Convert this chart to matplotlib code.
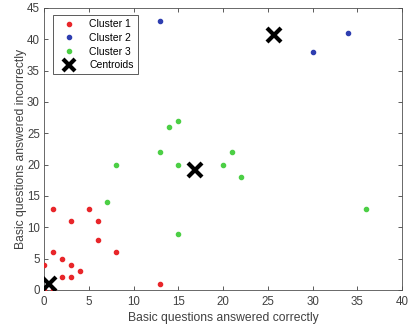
import matplotlib
matplotlib.use("Agg")
import matplotlib.pyplot as plt
from matplotlib.lines import Line2D

plt.rcParams['font.family'] = ['Liberation Sans', 'DejaVu Sans']

c1_x = [0, 1, 0, 1, 2, 2, 3, 3, 4, 1, 3, 5, 6, 6, 8, 13]
c1_y = [0, 0, 4, 6, 5, 2, 2, 4, 3, 13, 11, 13, 11, 8, 6, 1]
c2_x = [13, 30, 34]
c2_y = [43, 38, 41]
c3_x = [8, 7, 13, 14, 15, 15, 15, 20, 21, 22, 36]
c3_y = [20, 14, 22, 26, 27, 20, 9, 20, 22, 18, 13]
cent_x = [0.6, 16.9, 25.7]
cent_y = [0.9, 19.2, 40.7]

fig = plt.figure(figsize=(4.09, 3.31), dpi=100)
ax = fig.add_axes([44/409, 41/331, 358/409, 282/331])

red = '#E8262A'
blue = '#2E3EB0'
green = '#4CCF45'
ax.scatter(c1_x, c1_y, s=9, color=red, label='Cluster 1', zorder=3)
ax.scatter(c2_x, c2_y, s=9, color=blue, label='Cluster 2', zorder=3)
ax.scatter(c3_x, c3_y, s=9, color=green, label='Cluster 3', zorder=3)
ax.plot(cent_x, cent_y, 'x', color='k', ms=10, mew=3, ls='none', label='Centroids', zorder=4)

ax.set_xlim(0, 40)
ax.set_ylim(0, 45)
ax.set_xticks(range(0, 41, 5))
ax.set_yticks(range(0, 46, 5))
tc = '#404040'
ax.tick_params(direction='in', top=True, right=True, labelsize=8.3, colors=tc, length=3, width=0.6, pad=4)
ax.tick_params(axis='y', pad=3)
for s in ax.spines.values():
    s.set_color('#505050')
    s.set_linewidth(0.6)
ax.set_xlabel('Basic questions answered correctly', fontsize=8.7, color=tc, labelpad=3)
ax.set_ylabel('Basic questions answered incorrectly', fontsize=8.7, color=tc, labelpad=0)

handles = [
    Line2D([], [], marker='o', ls='none', color=red, ms=3),
    Line2D([], [], marker='o', ls='none', color=blue, ms=3),
    Line2D([], [], marker='o', ls='none', color=green, ms=3),
    Line2D([], [], marker='x', ls='none', color='k', ms=9, mew=3),
]
leg = ax.legend(handles, ['Cluster 1', 'Cluster 2', 'Cluster 3', 'Centroids'],
                loc='upper left', bbox_to_anchor=(0.025, 0.975), fontsize=7.5,
                frameon=True, fancybox=False, edgecolor='#404040', framealpha=1,
                borderpad=0.4, labelspacing=0.35, handletextpad=0.8, handlelength=2.3,
                borderaxespad=0)
leg.get_frame().set_linewidth(0.6)

fig.savefig('out.png', dpi=100)
